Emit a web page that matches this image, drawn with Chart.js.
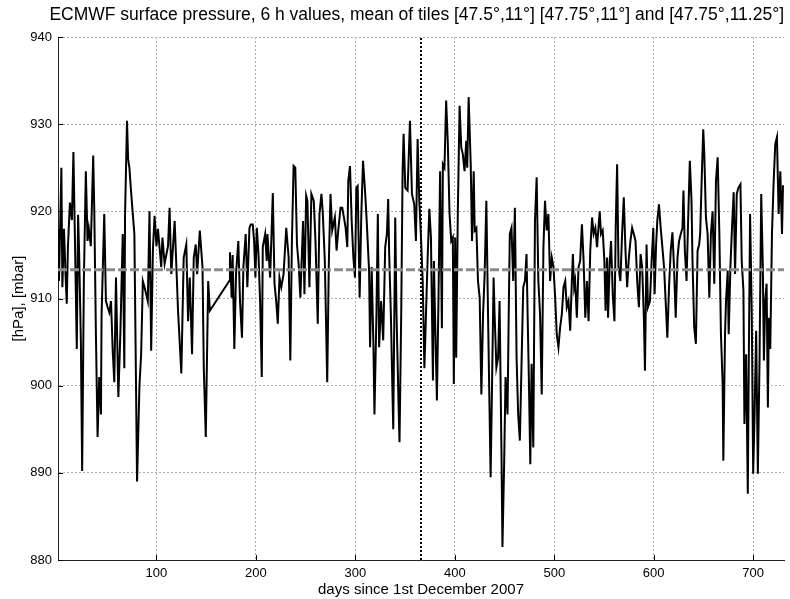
<!DOCTYPE html>
<html>
<head>
<meta charset="utf-8">
<script src="https://cdn.jsdelivr.net/npm/chart.js@4"></script>
<style>
  html, body { margin: 0; padding: 0; background: #fff; }
  canvas { display: block; }
</style>
</head>
<body>
<canvas id="presion" width="790" height="599"></canvas>
<script>
// Datos (dias desde 1 dic 2007, presion en hPa)
const dias = [
  1, 2, 4.4, 5.4, 7, 8.5, 9.8, 11, 13, 15,
  16.5, 18, 19.9, 21.2, 22.3, 24, 25.3, 27, 29, 30.7,
  32, 34, 36.4, 37.5, 39.1, 40.8, 42.5, 44.2, 44.8, 47.5,
  49.2, 50.9, 52.6, 54.3, 56, 57.6, 59.3, 61.7, 63.7, 66.1,
  67.7, 68.4, 70.4, 71.5, 72.8, 74, 76, 77.8, 80.5, 82.9,
  84.6, 86.3, 88, 91.3, 93, 94.7, 96.4, 98.1, 100, 101.5,
  104.8, 106, 108.2, 111.6, 113.2, 114.9, 118.3, 121.7, 125,
  127.4, 130, 131.8, 133.5, 135.8, 137.5, 139.5, 140.9, 143.6, 146.3,
  147.6, 149.6, 152, 153.7, 173.2, 173.9, 175.6, 176.6, 178.3, 180,
  182.3, 184, 186, 187.4, 189.7, 191.4, 193.5, 194.8, 196.8, 198.2,
  199.5, 200.9, 202.6, 204.2, 205.9, 206.9, 209.3, 210.9, 211.6, 214.3,
  217, 218.7, 220.4, 222, 223.7, 225.5, 227.8, 230.5, 232.9, 234.6,
  236.2, 237.9, 239.6, 241.3, 243, 244.7, 247.4, 248.8,
  250.5, 251.8, 253.8, 255.8, 258.2, 259.9, 262.2, 263.9, 265.9, 267.3,
  269.3, 271.7, 273.3, 275, 276.7, 279.4, 281.1, 282.8, 285.1, 286.8,
  288.5, 290.2, 291.9, 292.9, 294.6, 296.3, 298, 299.6, 301, 302.3,
  304.3, 306, 307.7, 309.7, 311.4, 313.8, 314.8, 316.4, 318.2, 319.2,
  321.2, 322.6, 323.9, 325.9, 328, 330, 331.7, 333, 334, 335.7,
  338.1, 340.1, 341.4, 343.5, 344.4, 346.1, 347.5, 348.5, 350.2, 352.5,
  354.9, 356.9, 359.2, 360.9, 362.6, 364.3, 366, 367.7, 369.4, 371,
  372.7, 374.4,
  376, 378, 379, 380, 382, 383.6, 385.2, 387, 388, 389.6,
  391.3, 393, 394.7, 396.4, 398, 399, 400.4, 401.4, 403, 404.8,
  406.5, 408, 409.8, 411.5, 412.5, 413.9, 416, 417.3, 419, 420,
  421.7, 423.3, 425, 426.7, 428.4, 430, 431.7, 433.4, 436, 437.5,
  439, 440, 441.8, 443.5, 445, 446.9, 447.9, 449.6, 451, 453,
  454.2, 455.3, 457, 458.7, 460.4, 462.1, 463.7, 465.4, 467.1, 468.8,
  470.5, 472.1, 473.2, 474.5, 475.9, 477.2, 478.9, 480.6, 482.3, 484,
  485.7, 487.4, 489.1, 490.7, 492.4, 494.1, 495.8, 497.5, 499.2, 500.9,
  502.5, 504.2, 505.9, 507.6, 509.3, 511, 512.6, 514.3, 516, 517.7,
  518.7, 520, 521, 522.7, 524.4, 526, 527.8, 529.5, 531.2, 532.9,
  534.5, 536.2, 538, 539.6, 541.3, 543, 544.7, 545.7, 547, 548.7,
  550.4, 551.6, 553.1, 554.1, 555.8, 557.1, 558.8, 560.5, 561.9, 563.2,
  564.6, 566.5, 568.2, 569.9, 571.6, 573.3, 575, 576.6, 578.3, 580,
  581.7, 583.4, 585.1, 586.8, 588.4, 590.1, 591.2, 592.8, 594.2, 596.2,
  597.9, 599.6, 600.9, 602.3, 603.6, 605.3, 607, 608.7, 610.4, 612,
  613.7, 615.4, 617.1, 618.8, 620.4, 622.1,
  623.9, 625.5, 627.2, 628.9, 629.9, 631.3, 633, 634.6, 636.3, 638,
  639, 640.7, 642.4, 644.1, 645.7, 646.7, 648.1, 649.8, 650.8, 652.5,
  654.2, 655.9, 657.5, 659.2, 660.9, 662.6, 664.3, 666, 667.6, 669.3,
  670, 671.7, 672.7, 674.4, 675.4, 677.1, 678.7, 680.4, 681.8, 683.5,
  685.1, 687.2, 688.5, 690.2, 691.2, 692.9, 694.6, 695.6, 696.9, 698.6,
  700, 701.3, 703, 704.7, 706.4, 708.1, 709.7, 710.8, 712.1, 713.5,
  714.8, 715.8, 717.2, 718.9, 720.5, 722.2, 723.9, 725.6, 727.3, 729,
  730
];
const presion = [
  918, 912, 925, 911.3, 918, 913, 909.4, 916, 921, 919,
  926.8, 917, 904.2, 919.6, 915, 905, 890.2, 912, 924.6, 916.6,
  918, 916, 926.4, 920, 906, 894.1, 901, 896.7, 908, 919.7,
  909.7, 909, 908.4, 909.7, 904, 900.4, 912.4, 898.7, 906, 917.4,
  902, 919.5, 930.4, 926, 925, 923, 920, 917.4, 889, 900,
  903.6, 912, 911.3, 909.7, 920, 904, 915.5, 919.5, 916, 918,
  913.6, 917, 914, 916, 920.4, 912.8, 918.9, 908.6, 901.4,
  914.7, 916.2, 907.4, 912.4, 903.6, 914.7, 916.2, 912.8, 917.8, 913.6,
  902, 894.1, 912, 908.6, 912, 915.3, 910.1, 915, 904.2, 912.8,
  916.6, 909.7, 905.5, 913.6, 917.4, 911.3, 918.1, 918.5, 918.5, 916.6,
  912.4, 918.1, 915, 909.7, 901, 915.9, 917.4, 914.3, 917.4, 912.4,
  922.1, 911.7, 909.7, 907.1, 912.4, 911.3, 912.8, 918.1, 914.7, 902.9,
  916.6, 925.2, 925, 916.2, 913.9, 910.1, 918.9, 910.5,
  921.8, 921.2, 911.3, 922, 921.2, 916.6, 907.1, 919.7, 922, 919.7,
  914.3, 900.4, 913.9, 922, 917.8, 919.3, 915.5, 917.8, 920.4, 920.4,
  919.3, 918.1, 915.9, 923.5, 925.2, 918.9, 914.7, 912.4, 922.7, 922.9,
  910.1, 919.7, 925.8, 922.4, 918.9, 913.2, 904.4, 913.6, 904.4, 896.7,
  908.2, 919.7, 904.4, 909.7, 905.2, 915.9, 917.4, 921.4, 915.1, 908.2,
  895, 919.3, 908.2, 897.5, 893.5, 908.2, 924.6, 928.9, 922.7, 922.4,
  930.4, 922, 920.8, 916.6, 928.3, 921.2, 917, 912, 902, 908.2,
  914.7, 920.3,
  917, 900.6, 914.3, 908.6, 898.3, 910.1, 924.6, 906.6, 925.4, 925,
  932.7, 927.7, 919.7, 916.6, 917, 900.2, 917, 903.2, 919.7, 932.1,
  927.3, 926.6, 924.6, 928.1, 925, 933.1, 925.4, 916.6, 924.6, 917.8,
  918.1, 912, 910.1, 899, 908.2, 912.8, 921.2, 908.2, 889.5, 900.6,
  912.4, 908.2, 902.1, 903.2, 909.7, 892.6, 881.5, 891, 901, 896.7,
  908.2, 917.4, 918.1, 912, 920.4, 903.2, 896.7, 893.7, 902.5, 911.3,
  912, 915.1, 908.2, 900.6, 891, 902.5, 892.9, 918.9, 923.9, 912,
  908.2, 899, 915.9, 921.2, 917.8, 919.7, 912, 914.7, 913.6, 910.1,
  905.9, 904.4, 906.7, 908.2, 911.3, 912, 909, 909.7, 906.3, 912,
  915.1, 911.3, 912, 907.8, 913.6, 914.3, 918.5, 914.3, 907.8, 912,
  907.4, 915.5, 919.3, 917.4, 918.1, 915.9, 918.5, 920, 917.4, 917.8,
  914.3, 908.6, 914.7, 907.8, 914.3, 916.6, 910.5, 907.4, 918.9, 925.4,
  913.6, 912, 917.4, 921.6, 915.5, 911.3, 914.7, 916.6, 918.1, 917.4,
  916.6, 912, 909, 915.1, 913.6, 907.8, 901.7, 916.2, 909, 909.7,
  914.3, 918.1, 910.5, 915.9, 918.9, 920.8, 918.1, 915.9, 913.6, 909.7,
  905.5, 911.3, 915.5, 917.6, 913.6, 907.8,
  914.7, 916.6, 917.4, 918.1, 922.4, 915.5, 912, 918.9, 925.8, 921.2,
  914.3, 906.7, 904.8, 915.5, 916.2, 917.4, 923.1, 929.4, 926.8, 919.3,
  917.4, 910.1, 917.4, 920, 911.7, 923.5, 926.2, 917.4, 905.9, 900.2,
  891.4, 905.9, 909.7, 913.2, 905.9, 913.6, 918.1, 922.2, 912.8, 922,
  922.7, 923.1, 914.3, 910.9, 895.6, 903.6, 887.6, 902.9, 919.7, 908.2,
  889.9, 896.1, 906.3, 889.9, 902.9, 922, 913.6, 902.9, 909.7, 911.7,
  897.5, 907.8, 904.2, 917.4, 923.1, 927.7, 928.5, 919.7, 924.6, 917.4,
  923
];
const xTicks = [100, 200, 300, 400, 500, 600, 700];
const yTicks = [880, 890, 900, 910, 920, 930, 940];
const mediaPresion = 913.3;   // linea gris horizontal
const finPrimerAnio = 366;    // linea vertical punteada
const titulo = 'ECMWF surface pressure, 6 h values, mean of tiles [47.5\u00b0,11\u00b0] [47.75\u00b0,11\u00b0] and [47.75\u00b0,11.25\u00b0]';

Chart.defaults.font.family = '"Liberation Sans", Arial, sans-serif';
Chart.defaults.color = '#000';

// Marcas de eje hacia adentro, estilo MATLAB
const marcasInternas = {
    id: 'marcasInternas',
    afterDatasetsDraw(chart) {
        const { ctx, chartArea: a, scales: { x, y } } = chart;
        ctx.save();
        ctx.strokeStyle = '#000';
        ctx.lineWidth = 1;
        ctx.beginPath();
        xTicks.forEach(v => {
            const px = Math.round(x.getPixelForValue(v)) + 0.5;
            ctx.moveTo(px, a.bottom);
            ctx.lineTo(px, a.bottom - 5);
        });
        yTicks.forEach(v => {
            const py = Math.round(y.getPixelForValue(v)) + 0.5;
            ctx.moveTo(a.left, py);
            ctx.lineTo(a.left + 5, py);
        });
        ctx.stroke();
        ctx.restore();
    }
};

const puntos = dias.map((d, i) => ({ x: d, y: presion[i] }));

new Chart(document.getElementById('presion'), {
    type: 'line',
    data: {
        datasets: [
            {
                data: puntos,
                borderColor: '#000',
                borderWidth: 2,
                pointRadius: 0,
                tension: 0,
                order: 2
            },
            {
                data: [{ x: 1, y: mediaPresion }, { x: 731, y: mediaPresion }],
                borderColor: '#8a8a8a',
                borderWidth: 3,
                borderDash: [9, 3],
                pointRadius: 0,
                order: 1
            },
            {
                data: [{ x: finPrimerAnio, y: 880 }, { x: finPrimerAnio, y: 940 }],
                borderColor: '#000',
                borderWidth: 2,
                borderDash: [2, 2],
                pointRadius: 0,
                order: 0
            }
        ]
    },
    options: {
        responsive: false,
        animation: false,
        layout: { padding: { left: 0, right: 6, top: 0, bottom: 0 } },
        plugins: {
            legend: { display: false },
            tooltip: { enabled: false },
            title: {
                display: true,
                text: titulo,
                align: 'end',
                color: '#000',
                font: { size: 17.5, weight: 'normal' },
                padding: { top: 5, bottom: 11 }
            }
        },
        scales: {
            x: {
                type: 'linear',
                min: 1,
                max: 731,
                afterBuildTicks: ax => { ax.ticks = xTicks.map(v => ({ value: v })); },
                afterFit: ax => { ax.height = 39; },
                grid: { color: '#b0b0b0', lineWidth: 1, drawTicks: false },
                border: { color: '#222', width: 1, dash: [2, 2] },
                ticks: { padding: 6, font: { size: 13 }, maxRotation: 0 },
                title: {
                    display: true,
                    text: 'days since 1st December 2007',
                    font: { size: 15 },
                    padding: { top: 1, bottom: 0 }
                }
            },
            y: {
                min: 880,
                max: 940,
                afterBuildTicks: ax => { ax.ticks = yTicks.map(v => ({ value: v })); },
                afterFit: ax => { ax.width = 58; },
                grid: { color: '#b0b0b0', lineWidth: 1, drawTicks: false },
                border: { color: '#222', width: 1, dash: [2, 2] },
                ticks: { padding: 6, font: { size: 13 } },
                title: {
                    display: true,
                    text: '[hPa], [mbar]',
                    font: { size: 15 },
                    padding: { top: 10, bottom: 0 }
                }
            }
        }
    },
    plugins: [marcasInternas]
});
</script>
</body>
</html>
